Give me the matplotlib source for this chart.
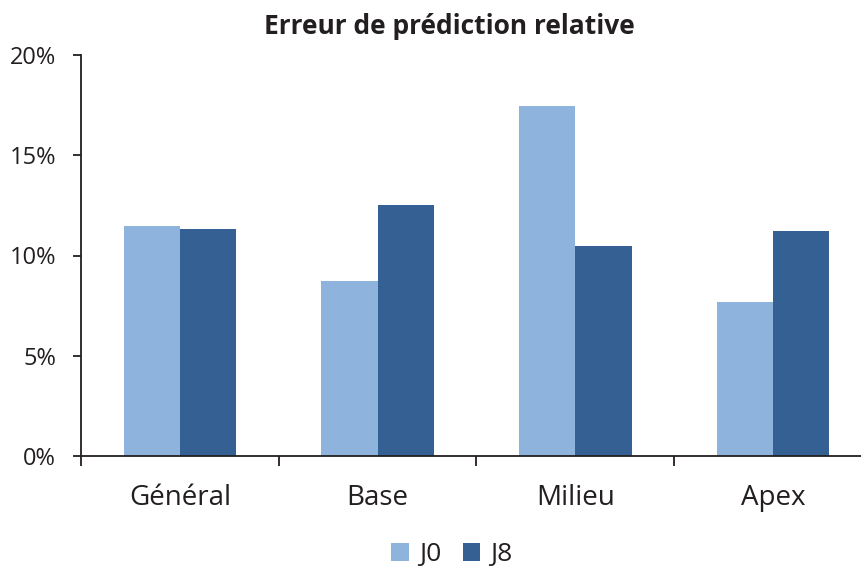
import matplotlib
matplotlib.use("Agg")
import matplotlib.pyplot as plt
import numpy as np
from matplotlib.ticker import FuncFormatter, MultipleLocator

categories = ["Général", "Base", "Milieu", "Apex"]
series_names = ["J0", "J8"]
j0 = [11.45, 8.72, 17.45, 7.68]
j8 = [11.3, 12.5, 10.45, 11.2]

c_j0 = "#8EB4DE"
c_j8 = "#356093"
txt = "#231F20"

plt.rcParams['font.family'] = ['Open Sans', 'DejaVu Sans']

fig = plt.figure(figsize=(8.62, 5.71), dpi=100)
x0, x1 = 81/862, 872/862
y0, y1 = 1 - 456/571, 1 - 55/571
ax = fig.add_axes([x0, y0, x1 - x0, y1 - y0])

x = np.arange(len(categories))
w = 0.285
ax.bar(x - w/2, j0, width=w, color=c_j0, label=series_names[0], linewidth=0)
ax.bar(x + w/2, j8, width=w, color=c_j8, label=series_names[1], linewidth=0)

ax.set_xlim(-0.5, len(categories) - 0.5)
ax.set_ylim(0, 20)
ax.yaxis.set_major_locator(MultipleLocator(5))
ax.yaxis.set_major_formatter(FuncFormatter(lambda v, p: f"{v:.0f}%"))

ax.set_xticks(np.arange(len(categories) + 1) - 0.5)
ax.set_xticklabels([])
ax.set_xticks(x, minor=True)
ax.set_xticklabels(categories, minor=True)
ax.tick_params(axis='x', which='major', length=7.5, width=1.3, color=txt, direction='out')
ax.tick_params(axis='x', which='minor', length=0, pad=20, labelsize=20, labelcolor=txt)
ax.tick_params(axis='y', length=6, width=1.3, color=txt, direction='out', pad=12,
               labelsize=17, labelcolor=txt)

for s in ['top', 'right']:
    ax.spines[s].set_visible(False)
for s in ['left', 'bottom']:
    ax.spines[s].set_color(txt)
    ax.spines[s].set_linewidth(1.3)

fig.text(449/862, 1 - 26/571, "Erreur de prédiction relative", ha='center', va='center',
         fontsize=19, fontweight='bold', color=txt)

leg = fig.legend(loc='center', bbox_to_anchor=(452/862, 1 - 555/571), ncol=2, frameon=False,
                 fontsize=19, handlelength=0.65, handleheight=0.65, handletextpad=0.4,
                 columnspacing=0.8, borderaxespad=0, borderpad=0)
for t in leg.get_texts():
    t.set_color(txt)

fig.savefig("out.png", dpi=100)
